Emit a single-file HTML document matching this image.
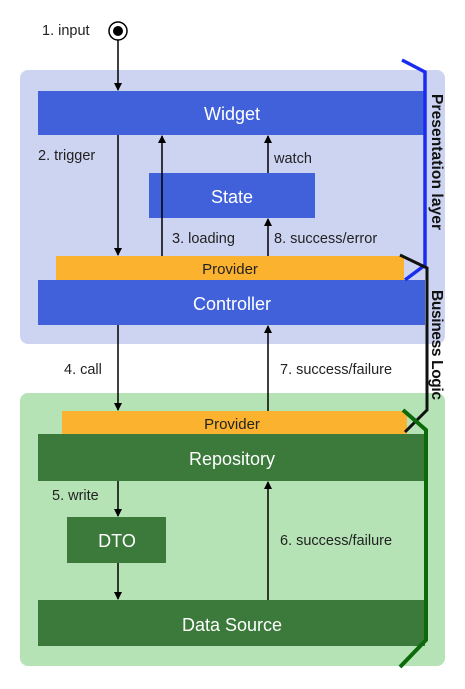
<!DOCTYPE html>
<html><head><style>
body{margin:0;background:#fff;}
svg text{font-family:"Liberation Sans",sans-serif;}
</style></head><body>
<svg width="465" height="684" viewBox="0 0 465 684" xmlns="http://www.w3.org/2000/svg">
<defs><marker id="a" markerWidth="8" markerHeight="8" refX="7" refY="4" orient="auto" markerUnits="userSpaceOnUse"><path d="M0,0 L8,4 L0,8 z" fill="#000"/></marker></defs>
<rect x="20" y="70" width="425" height="274" rx="8" fill="#cdd4f2"/>
<rect x="20" y="393" width="425" height="273" rx="8" fill="#b5e3b5"/>
<rect x="38" y="91" width="387" height="44" fill="#4161db"/>
<rect x="149" y="173" width="166" height="45" fill="#4161db"/>
<rect x="56" y="256" width="348" height="24" fill="#fbb22e"/>
<rect x="38" y="280" width="387" height="45" fill="#4161db"/>
<rect x="62" y="411" width="345" height="23" fill="#fbb22e"/>
<rect x="38" y="434" width="387" height="47" fill="#3b7a3b"/>
<rect x="67" y="517" width="99" height="46" fill="#3b7a3b"/>
<rect x="38" y="600" width="387" height="46" fill="#3b7a3b"/>
<g font-size="18" fill="#fff" text-anchor="middle">
<text x="232" y="120">Widget</text>
<text x="232" y="203">State</text>
<text x="232" y="310">Controller</text>
<text x="232" y="465">Repository</text>
<text x="117" y="547">DTO</text>
<text x="232" y="631">Data Source</text>
</g>
<g font-size="15" fill="#222" text-anchor="middle">
<text x="230" y="274">Provider</text>
<text x="232" y="429">Provider</text>
</g>
<g stroke="#000" stroke-width="1.5" fill="none" marker-end="url(#a)">
<line x1="118" y1="40" x2="118" y2="90"/>
<line x1="118" y1="135" x2="118" y2="255"/>
<line x1="162" y1="256" x2="162" y2="136"/>
<line x1="268" y1="173" x2="268" y2="136"/>
<line x1="268" y1="256" x2="268" y2="219"/>
<line x1="118" y1="325" x2="118" y2="410"/>
<line x1="268" y1="411" x2="268" y2="326"/>
<line x1="118" y1="481" x2="118" y2="516"/>
<line x1="118" y1="563" x2="118" y2="599"/>
<line x1="268" y1="600" x2="268" y2="482"/>
</g>
<circle cx="118" cy="31" r="9" fill="#fff" stroke="#000" stroke-width="1.5"/>
<circle cx="118" cy="31" r="5" fill="#000"/>
<g font-size="14.5" fill="#222">
<text x="42" y="35">1. input</text>
<text x="38" y="160">2. trigger</text>
<text x="274" y="163">watch</text>
<text x="172" y="243">3. loading</text>
<text x="274" y="243">8. success/error</text>
<text x="64" y="374">4. call</text>
<text x="280" y="374">7. success/failure</text>
<text x="52" y="500">5. write</text>
<text x="280" y="545">6. success/failure</text>
</g>
<polyline points="402,60 425,72 425,265 405,280" fill="none" stroke="#1a2cf0" stroke-width="3.5"/>
<polyline points="400,255 427,268 427,410 405,432" fill="none" stroke="#111" stroke-width="3"/>
<polyline points="403,410 426,430 426,640 400,667" fill="none" stroke="#0c6a0c" stroke-width="4"/>
<g font-size="15.5" font-weight="bold" fill="#111">
<text transform="translate(432,94) rotate(90)" textLength="136">Presentation layer</text>
<text transform="translate(432,290) rotate(90)" textLength="110">Business Logic</text>
</g>
</svg>
</body></html>
